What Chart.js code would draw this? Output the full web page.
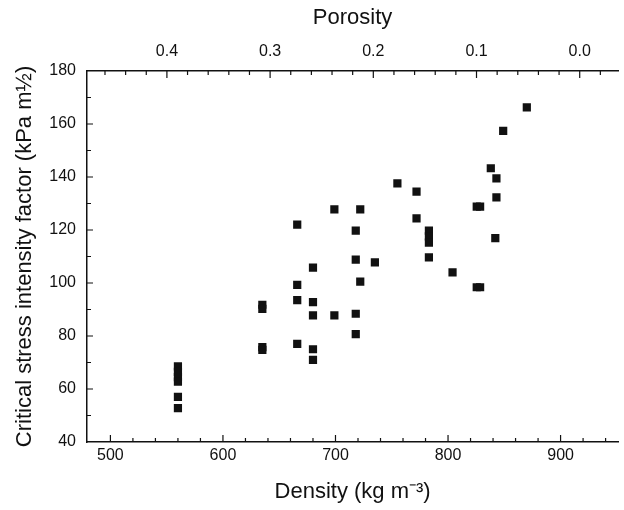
<!DOCTYPE html>
<html>
<head>
<meta charset="utf-8">
<script src="https://cdn.jsdelivr.net/npm/chart.js@4/dist/chart.umd.min.js"></script>
<style>
  html, body { margin: 0; padding: 0; background: #fff; }
</style>
</head>
<body>
<canvas id="chart" width="624" height="510"></canvas>
<script>
// density (kg m-3) and critical stress intensity factor (kPa m^1/2)
const density = [
  560, 560, 560, 560, 560, 560,
  635, 635, 635, 635,
  666, 666, 666, 666,
  680, 680, 680, 680, 680,
  699, 699,
  718, 718, 718, 718,
  722, 722,
  735, 755, 772, 772,
  783, 783, 783, 783,
  804, 825.5, 828.5, 825.5, 828.5,
  838, 842, 843, 843, 849, 870
];
const stressFactor = [
  68.5, 66.5, 64.5, 62.8, 57, 52.8,
  91.8, 90.2, 75.8, 74.8,
  122, 99.3, 93.5, 77,
  105.8, 92.8, 87.8, 75, 71,
  127.8, 87.8,
  119.8, 108.8, 88.4, 80.7,
  127.8, 100.5,
  107.8, 137.6, 134.5, 124.4,
  119.8, 117.6, 115.2, 109.7,
  104, 128.8, 128.8, 98.4, 98.4,
  143.3, 116.9, 132.3, 139.5, 157.4, 166.3
];

const densityTicks = [500, 600, 700, 800, 900];
const porosityTicks = [0.4, 0.3, 0.2, 0.1, 0.0];
const factorTicks = [40, 60, 80, 100, 120, 140, 160, 180];

const ICE_DENSITY = 917;
const X_MIN = 479.2, X_MAX = 951.2;

const ink = '#111';
const tickFont = { family: '"Liberation Sans", Arial, sans-serif', size: 16 };
const titleFont = { family: '"Liberation Sans", Arial, sans-serif', size: 22 };

// small tick marks pointing into the plot, like the original figure
const inwardTicks = {
  id: 'inwardTicks',
  afterDraw(chart) {
    const { ctx, chartArea: a, scales } = chart;
    ctx.save();
    ctx.strokeStyle = ink;
    ctx.lineWidth = 1.2;
    ctx.beginPath();
    for (let v = 500; v <= 940; v += 20) {
      const x = scales.x.getPixelForValue(v);
      const len = v % 100 === 0 ? 7 : 4;
      ctx.moveTo(x, a.bottom);
      ctx.lineTo(x, a.bottom - len);
    }
    for (let i = -2; i <= 23; i++) {
      const x = scales.x2.getPixelForValue(i / 50);
      if (x < a.left + 2 || x > a.right) continue;
      const len = i % 5 === 0 ? 7 : 4;
      ctx.moveTo(x, a.top);
      ctx.lineTo(x, a.top + len);
    }
    for (let v = 50; v < 180; v += 10) {
      const y = scales.y.getPixelForValue(v);
      const len = v % 20 === 0 ? 6 : 4;
      ctx.moveTo(a.left, y);
      ctx.lineTo(a.left + len, y);
    }
    ctx.stroke();
    ctx.restore();
  }
};

new Chart(document.getElementById('chart'), {
  type: 'scatter',
  data: {
    datasets: [{
      data: density.map((d, i) => ({ x: d, y: stressFactor[i] })),
      pointStyle: 'rect',
      pointRadius: 5.8,
      backgroundColor: '#111',
      borderColor: '#111',
      borderWidth: 0
    }]
  },
  options: {
    responsive: false,
    animation: false,
    layout: { padding: 0 },
    plugins: { legend: { display: false }, tooltip: { enabled: false } },
    scales: {
      x: {
        type: 'linear',
        position: 'bottom',
        min: X_MIN,
        max: X_MAX,
        afterBuildTicks: s => { s.ticks = densityTicks.map(v => ({ value: v })); },
        afterFit: s => { s.height = 68; },
        grid: { drawOnChartArea: false, drawTicks: false },
        border: { display: true, color: ink, width: 1.5 },
        ticks: { padding: 4, color: ink, font: tickFont, maxRotation: 0 },
        title: { display: true, text: 'Density (kg m⁻³)', color: ink, font: titleFont, padding: { top: 0, bottom: 5 } }
      },
      x2: {
        type: 'linear',
        position: 'top',
        reverse: true,
        min: 1 - X_MAX / ICE_DENSITY,
        max: 1 - X_MIN / ICE_DENSITY,
        afterBuildTicks: s => { s.ticks = porosityTicks.map(v => ({ value: v })); },
        afterFit: s => { s.height = 71; },
        grid: { drawOnChartArea: false, drawTicks: false },
        border: { display: true, color: ink, width: 1.5 },
        ticks: { padding: 10, color: ink, font: tickFont, maxRotation: 0, callback: v => v.toFixed(1) },
        title: { display: true, text: 'Porosity', color: ink, font: titleFont, padding: { top: 5, bottom: 0 } }
      },
      y: {
        type: 'linear',
        position: 'left',
        min: 40,
        max: 180,
        afterBuildTicks: s => { s.ticks = factorTicks.map(v => ({ value: v })); },
        afterFit: s => { s.width = 87; },
        grid: { drawOnChartArea: false, drawTicks: false },
        border: { display: true, color: ink, width: 1.5 },
        ticks: { padding: 11, color: ink, font: tickFont },
        title: { display: true, text: 'Critical stress intensity factor (kPa m½)', color: ink, font: titleFont, padding: { top: 12, bottom: 0 } }
      }
    }
  },
  plugins: [inwardTicks]
});
</script>
</body>
</html>
